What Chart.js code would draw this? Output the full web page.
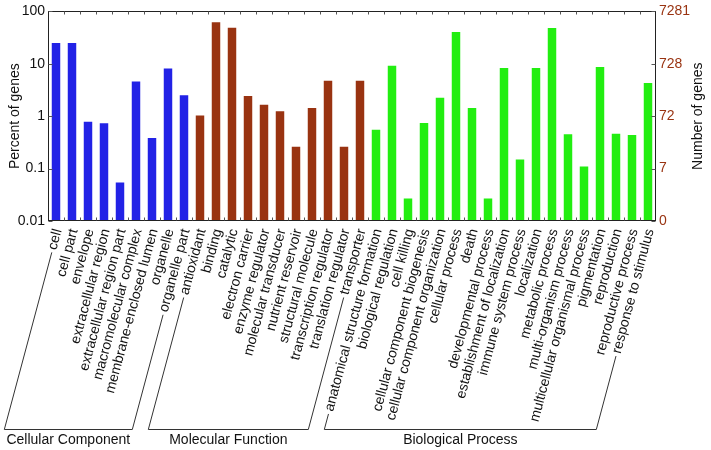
<!DOCTYPE html>
<html>
<head>
<meta charset="utf-8">
<script src="https://cdn.jsdelivr.net/npm/chart.js@4/dist/chart.umd.min.js"></script>
<style>
  html, body { margin: 0; padding: 0; background: #fff; }
</style>
</head>
<body>
<canvas id="goChart" width="711" height="450"></canvas>
<script>
// GO terms, in plotting order
const categories = [
  "cell", "cell part", "envelope", "extracellular region", "extracellular region part",
  "macromolecular complex", "membrane-enclosed lumen", "organelle", "organelle part",
  "antioxidant", "binding", "catalytic", "electron carrier", "enzyme regulator",
  "molecular transducer", "nutrient reservoir", "structural molecule",
  "transcription regulator", "translation regulator", "transporter",
  "anatomical structure formation", "biological regulation", "cell killing",
  "cellular component biogenesis", "cellular component organization", "cellular process",
  "death", "developmental process", "establishment of localization",
  "immune system process", "localization", "metabolic process", "multi-organism process",
  "multicellular organismal process", "pigmentation", "reproduction",
  "reproductive process", "response to stimulus"
];

const groupNames = ["Cellular Component", "Molecular Function", "Biological Process"];
const groupSizes = [9, 11, 18];
const groupColors = ["#2222e6", "#993311", "#22ee11"];

// percent of genes
const percentValues = [
  25, 25, 0.78, 0.73, 0.054, 4.6, 0.385, 8.1, 2.5,
  1.03, 62, 49, 2.43, 1.65, 1.24, 0.26, 1.43, 4.76, 0.26, 4.76,
  0.55, 9.2, 0.027, 0.74, 2.26, 40.6, 1.43, 0.027, 8.3, 0.149,
  8.3, 48.3, 0.45, 0.11, 8.7, 0.46, 0.44, 4.3
];

const leftTickValues = [0.01, 0.1, 1, 10, 100];
const leftTickLabels = ["0.01", "0.1", "1", "10", "100"];
const rightTickLabels = ["0", "7", "72", "728", "7281"];

const FONT = "'Liberation Sans', Arial, Helvetica, sans-serif";
const BROWN = "#993311";
const LABEL_SHIFT = 2;

const barColors = [];
groupSizes.forEach((n, g) => {
  for (let i = 0; i < n; i++) barColors.push(groupColors[g]);
});

// frame, inward ticks, group brackets and right title
const goFrame = {
  id: "goFrame",
  afterDraw(chart) {
    const ctx = chart.ctx;
    const area = chart.chartArea;
    const xs = chart.scales.x;
    const ys = chart.scales.y;
    const L = Math.round(area.left) + 0.5;
    const R = Math.round(area.right) - 0.5;
    const T = Math.round(area.top) + 0.5;
    const B = Math.round(area.bottom) - 0.5;

    ctx.save();
    ctx.strokeStyle = "#222";
    ctx.lineWidth = 1;
    ctx.strokeRect(L, T, R - L, B - T);

    // category boundary ticks
    const step = (area.right - area.left) / categories.length;
    ctx.strokeStyle = "#555";
    ctx.beginPath();
    for (let i = 1; i < categories.length; i++) {
      const x = Math.round(area.left + i * step) + 0.5;
      ctx.moveTo(x, T); ctx.lineTo(x, T + 3);
      ctx.moveTo(x, B); ctx.lineTo(x, B - 3);
    }
    // decade ticks
    leftTickValues.forEach((v) => {
      const y = Math.round(ys.getPixelForValue(v)) + 0.5;
      ctx.moveTo(L, y); ctx.lineTo(L + 4, y);
      ctx.moveTo(R, y); ctx.lineTo(R - 4, y);
    });
    ctx.stroke();

    // brackets under the rotated labels
    const fontSize = 14;
    const lh = fontSize * 1.2;
    const rot = (xs.labelRotation * Math.PI) / 180;
    const cos = Math.cos(rot), sin = Math.sin(rot);
    const yEnd = xs.top + 6 + (lh / 2) * cos;
    const baseY = 429.5;
    ctx.font = fontSize + "px " + FONT;

    const footOf = (idx) => {
      const w = ctx.measureText(categories[idx]).width + 3;
      const x0 = xs.getPixelForValue(idx) + LABEL_SHIFT - w * cos;
      const y0 = yEnd + w * sin;
      const x1 = x0 - (baseY - y0) * cos / sin;
      return { x0, y0, x1 };
    };

    ctx.strokeStyle = "#333";
    let start = 0;
    groupSizes.forEach((n, g) => {
      const a = footOf(start);
      const b = footOf(start + n - 1);
      ctx.beginPath();
      ctx.moveTo(a.x0, a.y0);
      ctx.lineTo(a.x1, baseY);
      ctx.lineTo(b.x1, baseY);
      ctx.lineTo(b.x0, b.y0);
      ctx.stroke();

      ctx.fillStyle = "#111";
      ctx.textAlign = "center";
      ctx.textBaseline = "alphabetic";
      ctx.fillText(groupNames[g], (a.x1 + b.x1) / 2, 444);
      start += n;
    });

    // right axis title reads bottom to top
    ctx.translate(698.5, (area.top + area.bottom) / 2);
    ctx.rotate(-Math.PI / 2);
    ctx.textAlign = "center";
    ctx.textBaseline = "middle";
    ctx.fillStyle = "#111";
    ctx.fillText("Number of genes", 0, 0);
    ctx.restore();
  }
};

new Chart(document.getElementById("goChart"), {
  type: "bar",
  data: {
    labels: categories,
    datasets: [{
      data: percentValues,
      backgroundColor: barColors,
      borderWidth: 0,
      barPercentage: 0.53,
      categoryPercentage: 1
    }]
  },
  options: {
    responsive: false,
    animation: false,
    devicePixelRatio: 1,
    layout: { padding: { top: 8, left: 0, right: 0, bottom: 0 } },
    plugins: {
      legend: { display: false },
      tooltip: { enabled: false }
    },
    scales: {
      x: {
        grid: { display: false, drawTicks: false },
        border: { display: false },
        ticks: {
          autoSkip: false,
          minRotation: 75,
          maxRotation: 75,
          padding: 6,
          labelOffset: LABEL_SHIFT,
          color: "#111",
          font: { family: FONT, size: 14 }
        },
        afterFit: (scale) => { scale.height = 229; }
      },
      y: {
        type: "logarithmic",
        position: "left",
        min: 0.01,
        max: 100,
        grid: { display: false, drawTicks: false },
        border: { display: false },
        afterBuildTicks: (scale) => {
          scale.ticks = leftTickValues.map((v) => ({ value: v }));
        },
        ticks: {
          padding: 3,
          color: "#111",
          font: { family: FONT, size: 14 },
          callback: (v, i) => leftTickLabels[i]
        },
        title: {
          display: true,
          text: "Percent of genes",
          color: "#111",
          padding: { top: 7, bottom: 0 },
          font: { family: FONT, size: 14 }
        },
        afterFit: (scale) => { scale.width = 48; }
      },
      y2: {
        type: "logarithmic",
        position: "right",
        min: 0.01,
        max: 100,
        grid: { display: false, drawTicks: false },
        border: { display: false },
        afterBuildTicks: (scale) => {
          scale.ticks = leftTickValues.map((v) => ({ value: v }));
        },
        ticks: {
          padding: 3,
          color: BROWN,
          font: { family: FONT, size: 14 },
          callback: (v, i) => rightTickLabels[i]
        },
        afterFit: (scale) => { scale.width = 55; }
      }
    }
  },
  plugins: [goFrame]
});
</script>
</body>
</html>
